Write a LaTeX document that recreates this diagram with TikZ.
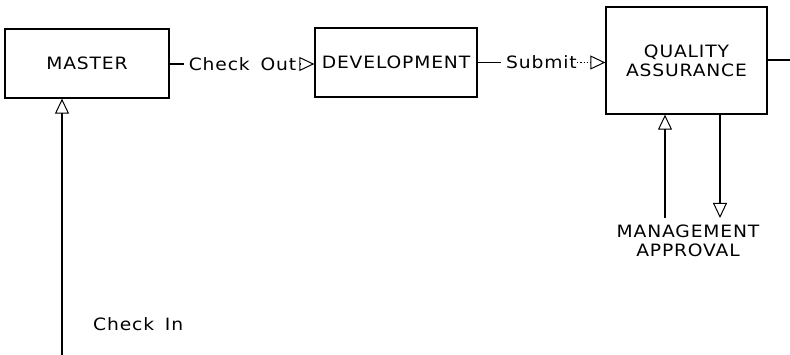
\documentclass[tikz,border=0pt]{standalone}
\usepackage{fontspec}
\setmainfont{DejaVu Sans}[FakeStretch=1.1,LetterSpace=5]
\usetikzlibrary{arrows.meta,calc}
\begin{document}
\begin{tikzpicture}[x=1pt,y=-1pt,
  font=\fontsize{17}{19}\selectfont,
  box/.style={draw, line width=1.3pt, inner sep=0pt},
  conn/.style={line width=1.1pt},
  opentip/.style={-{Triangle[open,length=15pt,width=14pt,line width=1pt]}},
  lbl/.style={inner sep=0pt, align=center}]
\useasboundingbox (0,0) rectangle (790,355);

% process boxes
\node[box, minimum width=164pt, minimum height=69pt] (master) at (87,63.5) {MASTER};
\node[box, minimum width=162pt, minimum height=69pt] (dev) at (396,62.5) {DEVELOPMENT};
\node[box, minimum width=161pt, minimum height=107pt, align=center] (qa) at (686.5,60.5) {QUALITY\\ASSURANCE};

% connector labels
\node[lbl] (checkout) at (242.5,64) {Check\hspace{4pt} Out};
\node[lbl] (submit) at (541.5,62.5) {Submit};
\node[lbl, anchor=west] (checkin) at (93,324) {Check\hspace{4pt} In};
\node[lbl] (mgmt) at (688,241) {MANAGEMENT\\APPROVAL};

% free ends
\coordinate (qaout) at (790,60);
\coordinate (mgmtup) at (665,218);
\coordinate (mgmtdown) at (720,218);
\coordinate (trunk) at (62,355);

% check out
\draw[conn] (master.east |- checkout) -- ++(14,0);
\draw[conn, opentip] ($(dev.west |- checkout)+(-14,0)$) -- (dev.west |- checkout);

% submit
\draw[conn] (dev.east |- submit) -- ($(submit.west)+(-5,0)$);
\draw[conn, dotted, opentip] ($(qa.west |- submit)+(-28,0)$) -- (qa.west |- submit);

% QA output
\draw[conn] (qa.east |- qaout) -- (qaout);

% management approval loop
\draw[conn, opentip] (mgmtup) -- (qa.south -| mgmtup);
\draw[conn, opentip] (qa.south -| mgmtdown) -- (mgmtdown);

% check in
\draw[conn, opentip] (trunk) -- (master.south -| trunk);
\end{tikzpicture}
\end{document}
